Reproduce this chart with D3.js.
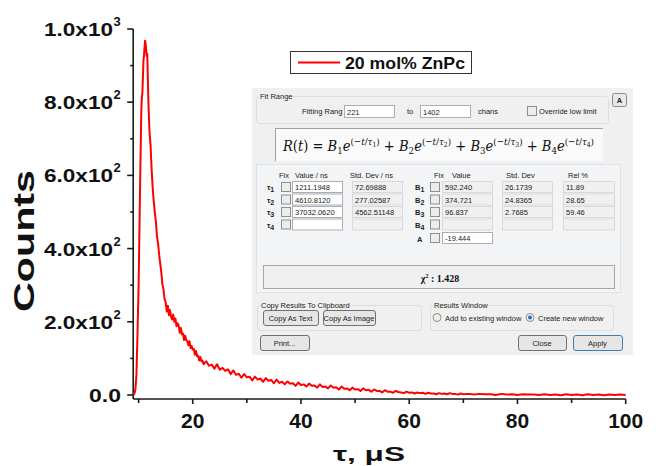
<!DOCTYPE html>
<html>
<head>
<meta charset="utf-8">
<script src="https://cdn.jsdelivr.net/npm/d3@7"></script>
<style>
  body { margin: 0; background: #fff; }
  svg { display: block; }
  .axis-lbl { font-family: "Liberation Sans", Arial, sans-serif; font-weight: bold; fill: #111; }
  .ui { font-family: "Liberation Sans", Arial, sans-serif; font-size: 7.5px; fill: #222; }
</style>
</head>
<body>
<div id="chart"></div>
<script>
// decay curve: [tau (us), counts]
var decayPoints = [
  [9.0,0],[9.2,3],[9.4,14],[9.6,55],[9.8,170],[10.0,300],[10.2,500],[10.4,690],[10.5,780],[10.6,812],
  [10.7,826],[10.8,870],[10.9,915],[11.0,928],[11.1,952],[11.2,968],[11.3,960],[11.4,942],[11.5,926],[11.6,932],
  [11.7,868],[11.8,806],[11.9,762],[12.0,722],[12.2,684],[12.4,618],[12.6,566],[12.8,528],[13.0,498],[13.2,472],
  [13.4,432],[13.6,414],[13.8,382],[14.0,358],[14.2,334],[14.4,302],[14.6,288],[14.8,262],[15.0,254],[15.2,228],
  [15.4,244],[15.6,218],[15.8,232],[16.0,214],[16.2,206],[16.4,220],[16.6,200],[16.8,209],[17.0,188],[17.2,196],
  [17.4,190],[17.6,170],[17.8,183],[18.0,166],[18.2,168],[18.4,150],[18.6,162],[18.8,150],[19.0,147],[19.2,136],
  [19.4,147],[19.6,128],[19.8,134],[20.0,124],[20.2,126],[20.4,110],[20.6,120],[20.8,106],[21.0,107],[21.2,94],
  [21.4,104],[21.6,92],[21.8,94],
  [22.0,84],[22.5,92],[23.0,80],[23.5,83],[24.0,72],[24.5,84],[25.0,69],[25.5,74],[26.0,66],[26.5,70],
  [27.0,57],[27.5,67],[28.0,55],[28.5,58],[29.0,47],[29.5,57],[30.0,48],[30.5,50],[31.0,40],[31.5,50],
  [32.0,42],[32.5,45],[33.0,36],[33.5,46],[34.0,39],[34.5,41],[35.0,32],[35.5,42],[36.0,33],[36.5,36],
  [37.0,29],[37.5,37],[38.0,31],[38.5,32],[39.0,25],[39.5,34],[40.0,27],[40.5,29],[41.0,23],[41.5,31],
  [42.0,25],[42.5,26],[43.0,20],[43.5,29],[44.0,22],[44.5,23],[45.0,18],[45.5,26],[46.0,20],[46.5,21],
  [47.0,15],[47.5,23],[48.0,17],[48.5,18],[49.0,13],[49.5,20],[50.0,15],[50.5,16],[51.0,11],[51.5,18],
  [52.0,13],[52.5,14],[53.0,9],[53.5,15],[54.0,11],[54.5,11],[55.0,7],[55.5,13],[56.0,9],[56.5,9],
  [57.0,6],[57.5,11],[58.0,8],[58.5,7],[59.0,5],[59.5,9],[60.0,6],[60.5,7],[61.0,4],[61.5,7],
  [62.0,5],[62.5,6],[63.0,3],[63.5,6],[64.0,4],[64.5,4],[65.0,2],[65.5,5],[66.0,3],[66.5,4],
  [67.0,2],[67.5,5],[68.0,3],[68.5,3],[69.0,1],[69.5,4],[70.0,2],[71.0,3],[72.0,1],[73.0,3],
  [74.0,2],[75.0,2],[76.0,0],[77.0,3],[78.0,1],[79.0,2],[80.0,0],[81.0,2],[82.0,1],[83.0,1],
  [84.0,0],[85.0,2],[86.0,0],[87.0,1],[88.0,-1],[89.0,2],[90.0,0],[91.0,1],[92.0,-1],[93.0,2],
  [94.0,0],[95.0,1],[96.0,-1],[97.0,1],[98.0,0],[99.0,1],[100.0,0]
]
var xMajorTicks = [20, 40, 60, 80, 100]
var xMinorTicks = [10, 30, 50, 70, 90]
var yMajorTicks = [0, 200, 400, 600, 800, 1000]
var yMinorTicks = [100, 300, 500, 700, 900]
var yTickMantissa = ["0.0", "2.0x10", "4.0x10", "6.0x10", "8.0x10", "1.0x10"]
var yTickExponent = ["", "2", "2", "2", "2", "3"]
var legendLabel = "20 mol% ZnPc"
var xTitle = "τ, μS"
var yTitle = "Counts"

// fit dialog contents
var fitRange = ["221", "1402"]
var tauValues = ["1211.1948", "4610.8120", "37032.0620", ""]
var tauStdDevs = ["72.69888", "277.02587", "4562.51148", ""]
var bValues = ["592.240", "374.721", "96.837", ""]
var bStdDevs = ["26.1739", "24.8365", "2.7685", ""]
var relPercent = ["11.89", "28.65", "59.46", ""]
var offsetA = "-19.444"
var chiSquared = "1.428"

var width = 658, height = 466
var svg = d3.select('#chart').append('svg')
  .attr('width', width)
  .attr('height', height)

svg.append('rect').attr('width', width).attr('height', height).attr('fill', '#fff')

var x = d3.scaleLinear().domain([9, 100]).range([133.2, 625.7])
var y = d3.scaleLinear().domain([-11, 1000]).range([399, 29])

// axes (drawn by hand with the scales, origin style)
var axisG = svg.append('g').attr('stroke', '#1a1a1a').attr('stroke-width', 1.6)
axisG.append('line')
  .attr('x1', x(9)).attr('x2', x(9))
  .attr('y1', y(-11)).attr('y2', y(1000))
axisG.append('line')
  .attr('x1', x(9)).attr('x2', x(100))
  .attr('y1', y(-11)).attr('y2', y(-11))

axisG.selectAll('.ymaj').data(yMajorTicks).enter().append('line')
  .attr('x1', x(9) - 6).attr('x2', x(9))
  .attr('y1', d => y(d)).attr('y2', d => y(d))
axisG.selectAll('.ymin').data(yMinorTicks).enter().append('line')
  .attr('x1', x(9) - 3).attr('x2', x(9))
  .attr('y1', d => y(d)).attr('y2', d => y(d))
axisG.selectAll('.xmaj').data(xMajorTicks).enter().append('line')
  .attr('x1', d => x(d)).attr('x2', d => x(d))
  .attr('y1', y(-11)).attr('y2', y(-11) + 5)
axisG.selectAll('.xmin').data(xMinorTicks).enter().append('line')
  .attr('x1', d => x(d)).attr('x2', d => x(d))
  .attr('y1', y(-11)).attr('y2', y(-11) + 4)

// y tick labels like 8.0x10^2
yMajorTicks.forEach(function(v, i) {
  var ty = y(v)
  var hasExp = yTickExponent[i] !== ""
  var right = hasExp ? 113 : 121
  svg.append('text')
    .attr('class', 'axis-lbl')
    .attr('x', right)
    .attr('y', ty + 7)
    .attr('text-anchor', 'end')
    .attr('font-size', 19)
    .attr('textLength', hasExp ? 69 : 32)
    .attr('lengthAdjust', 'spacingAndGlyphs')
    .text(yTickMantissa[i])
  if (hasExp) {
    svg.append('text')
      .attr('class', 'axis-lbl')
      .attr('x', 113.5)
      .attr('y', ty - 3)
      .attr('font-size', 13)
      .text(yTickExponent[i])
  }
})

svg.selectAll('.xlbl').data(xMajorTicks).enter().append('text')
  .attr('class', 'axis-lbl')
  .attr('x', d => x(d))
  .attr('y', 428)
  .attr('text-anchor', 'middle')
  .attr('font-size', 21)
  .text(d => d)

svg.append('text')
  .attr('class', 'axis-lbl')
  .attr('x', 369).attr('y', 461)
  .attr('text-anchor', 'middle')
  .attr('font-size', 21)
  .attr('textLength', 72)
  .attr('lengthAdjust', 'spacingAndGlyphs')
  .text(xTitle)

svg.append('text')
  .attr('class', 'axis-lbl')
  .attr('transform', 'translate(34,241) rotate(-90)')
  .attr('text-anchor', 'middle')
  .attr('font-size', 29)
  .attr('textLength', 142)
  .attr('lengthAdjust', 'spacingAndGlyphs')
  .text(yTitle)

// the decay curve
var line = d3.line().x(d => x(d[0])).y(d => y(d[1]))
svg.append('path')
  .datum(decayPoints)
  .attr('fill', 'none')
  .attr('stroke', '#ff0000')
  .attr('stroke-width', 2)
  .attr('stroke-linejoin', 'round')
  .attr('d', line)

// legend
var legend = svg.append('g')
legend.append('rect')
  .attr('x', 290.5).attr('y', 51.5).attr('width', 181).attr('height', 22)
  .attr('fill', '#fff').attr('stroke', '#333').attr('stroke-width', 1)
legend.append('line')
  .attr('x1', 298).attr('x2', 340).attr('y1', 62.5).attr('y2', 62.5)
  .attr('stroke', '#ff0000').attr('stroke-width', 2)
legend.append('text')
  .attr('class', 'axis-lbl')
  .attr('x', 345).attr('y', 68.5)
  .attr('font-size', 17)
  .attr('textLength', 120)
  .attr('lengthAdjust', 'spacingAndGlyphs')
  .text(legendLabel)

// ---- fit results dialog (screenshot inset) ----
var dlg = svg.append('g')
dlg.append('rect')
  .attr('x', 252).attr('y', 88).attr('width', 381).attr('height', 267)
  .attr('fill', '#f0f0f0')

function groupBox(x0, y0, w, h, label, labelW) {
  dlg.append('rect')
    .attr('x', x0 + 0.5).attr('y', y0 + 0.5).attr('width', w).attr('height', h)
    .attr('rx', 3).attr('fill', 'none').attr('stroke', '#d5dfe5')
  if (label) {
    dlg.append('rect').attr('x', x0 + 3).attr('y', y0 - 3).attr('width', labelW).attr('height', 7)
      .attr('fill', '#f0f0f0')
    dlg.append('text').attr('class', 'ui').attr('x', x0 + 4).attr('y', y0 + 3).text(label)
  }
}
function textBox(x0, y0, w, h, txt, editable) {
  dlg.append('rect')
    .attr('x', x0 + 0.5).attr('y', y0 + 0.5).attr('width', w).attr('height', h)
    .attr('fill', editable ? '#fff' : '#f0f0f0')
    .attr('stroke', editable ? '#abadb3' : '#d9d9d9')
  dlg.append('text').attr('class', 'ui')
    .attr('x', x0 + 3).attr('y', y0 + h / 2 + 3.5).text(txt)
}
function checkBox(x0, y0) {
  dlg.append('rect')
    .attr('x', x0 + 0.5).attr('y', y0 + 0.5).attr('width', 9).attr('height', 9)
    .attr('fill', '#ececec').attr('stroke', '#8e8f8f')
}
function button(x0, y0, w, h, label, isDefault) {
  dlg.append('rect')
    .attr('x', x0 + 0.5).attr('y', y0 + 0.5).attr('width', w).attr('height', h)
    .attr('rx', 2.5).attr('fill', '#e6e6e6')
    .attr('stroke', isDefault ? '#3c7fb1' : '#707070')
  dlg.append('text').attr('class', 'ui')
    .attr('x', x0 + w / 2).attr('y', y0 + h / 2 + 3).attr('text-anchor', 'middle').text(label)
}

// fit range group
groupBox(256, 96, 352, 27, 'Fit Range', 32)
dlg.append('text').attr('class', 'ui').attr('x', 302).attr('y', 114).text('Fitting Rang')
textBox(344, 105, 50, 12, fitRange[0], true)
dlg.append('text').attr('class', 'ui').attr('x', 407).attr('y', 114).text('to')
textBox(420, 105, 50, 12, fitRange[1], true)
dlg.append('text').attr('class', 'ui').attr('x', 478).attr('y', 114).text('chans')
checkBox(527, 106)
dlg.append('text').attr('class', 'ui').attr('x', 539).attr('y', 114).text('Override low limit')

// collapse button
dlg.append('rect').attr('x', 612.5).attr('y', 93.5).attr('width', 14).attr('height', 13)
  .attr('rx', 2).attr('fill', '#e8e8e8').attr('stroke', '#8a8a8a')
dlg.append('text').attr('class', 'ui').attr('x', 619.5).attr('y', 103)
  .attr('text-anchor', 'middle').attr('font-weight', 'bold').text('A')

// model formula
dlg.append('rect').attr('x', 275).attr('y', 128).attr('width', 328).attr('height', 33).attr('fill', '#fafafa')
dlg.append('path').attr('d', 'M275.5,161 V128.5 H603').attr('fill', 'none').attr('stroke', '#a0a0a0')
var formula = dlg.append('text')
  .attr('x', 283).attr('y', 151)
  .attr('font-family', '"DejaVu Serif", "Liberation Serif", serif')
  .attr('font-size', 15).attr('fill', '#111')
  .attr('textLength', 311).attr('lengthAdjust', 'spacingAndGlyphs')
formula.append('tspan').attr('font-style', 'italic').text('R')
formula.append('tspan').text('(')
formula.append('tspan').attr('font-style', 'italic').text('t')
formula.append('tspan').text(') = ')
;[1, 2, 3, 4].forEach(function(k, i) {
  // each term ends 6px up, so the " + " drops back to the baseline
  if (i > 0) formula.append('tspan').attr('dy', 6).text(' + ')
  formula.append('tspan').attr('font-style', 'italic').text('B')
  formula.append('tspan').attr('font-size', 10).attr('dy', 3).text(k)
  formula.append('tspan').attr('font-style', 'italic').attr('dy', -3).text('e')
  formula.append('tspan').attr('font-size', 10).attr('dy', -6).text('(−')
  formula.append('tspan').attr('font-size', 10).attr('font-style', 'italic').text('t')
  formula.append('tspan').attr('font-size', 10).text('/')
  formula.append('tspan').attr('font-size', 10).attr('font-style', 'italic').text('τ')
  formula.append('tspan').attr('font-size', 7).attr('dy', 2).text(k)
  formula.append('tspan').attr('font-size', 10).attr('dy', -2).text(')')
})

// results group
dlg.append('rect').attr('x', 256.5).attr('y', 164.5).attr('width', 364).attr('height', 128)
  .attr('fill', '#f3f4f6').attr('stroke', '#dde3e8')
var headers = [['Fix', 279], ['Value / ns', 295], ['Std. Dev / ns', 350], ['Fix', 434], ['Value', 452], ['Std. Dev', 506], ['Rel %', 568]]
headers.forEach(function(h) {
  dlg.append('text').attr('class', 'ui').attr('x', h[1]).attr('y', 178).text(h[0])
})
var rowY = [181, 193.5, 206, 218.5]
rowY.forEach(function(ry, i) {
  var lbl = dlg.append('text').attr('class', 'ui').attr('x', 267).attr('y', ry + 9)
    .attr('font-weight', 'bold').attr('font-size', 10)
  lbl.append('tspan').text('τ')
  lbl.append('tspan').attr('font-size', 7).attr('dy', 2).text(i + 1)
  checkBox(281, ry + 1)
  textBox(292, ry, 50, 11, tauValues[i], true)
  textBox(352, ry, 50, 11, tauStdDevs[i], false)
  var bl = dlg.append('text').attr('class', 'ui').attr('x', 415).attr('y', ry + 9)
    .attr('font-weight', 'bold').attr('font-size', 9)
  bl.append('tspan').text('B')
  bl.append('tspan').attr('font-size', 7).attr('dy', 2).text(i + 1)
  checkBox(430, ry + 1)
  textBox(442, ry, 50, 11, bValues[i], false)
  textBox(502, ry, 50, 11, bStdDevs[i], false)
  textBox(563, ry, 51, 11, relPercent[i], false)
})
dlg.append('text').attr('class', 'ui').attr('x', 417).attr('y', 241.5)
  .attr('font-weight', 'bold').attr('font-size', 9).text('A')
checkBox(430, 233)
textBox(442, 232, 50, 11, offsetA, true)

// chi squared
dlg.append('rect').attr('x', 263.5).attr('y', 265.5).attr('width', 351).attr('height', 23)
  .attr('fill', '#f0f0f0').attr('stroke', '#a8a8a8')
var chi = dlg.append('text').attr('x', 440).attr('y', 282).attr('text-anchor', 'middle')
  .attr('font-family', '"Liberation Serif", serif').attr('font-weight', 'bold').attr('font-size', 10).attr('fill', '#111')
chi.append('tspan').text('χ')
chi.append('tspan').attr('font-size', 6).attr('dy', -4).text('2')
chi.append('tspan').attr('dy', 4).text(' : ' + chiSquared)

// clipboard + results window groups
groupBox(257, 305, 164, 25, 'Copy Results To Clipboard', 88)
button(263, 310, 55, 15, 'Copy As Text')
button(323, 310, 52, 15, 'Copy As Image')
groupBox(430, 305, 183, 25, 'Results Window', 52)
dlg.append('circle').attr('cx', 437).attr('cy', 317.5).attr('r', 4).attr('fill', '#eee').attr('stroke', '#8e8f8f')
dlg.append('text').attr('class', 'ui').attr('x', 445).attr('y', 320.5).text('Add to existing window')
dlg.append('circle').attr('cx', 530).attr('cy', 317.5).attr('r', 4).attr('fill', '#eee').attr('stroke', '#8e8f8f')
dlg.append('circle').attr('cx', 530).attr('cy', 317.5).attr('r', 2).attr('fill', '#2b6fb6')
dlg.append('text').attr('class', 'ui').attr('x', 538).attr('y', 320.5).text('Create new window')

button(260, 335, 49, 15, 'Print...')
button(518, 335, 48, 15, 'Close')
button(573, 335, 49, 15, 'Apply', true)
</script>
</body>
</html>
